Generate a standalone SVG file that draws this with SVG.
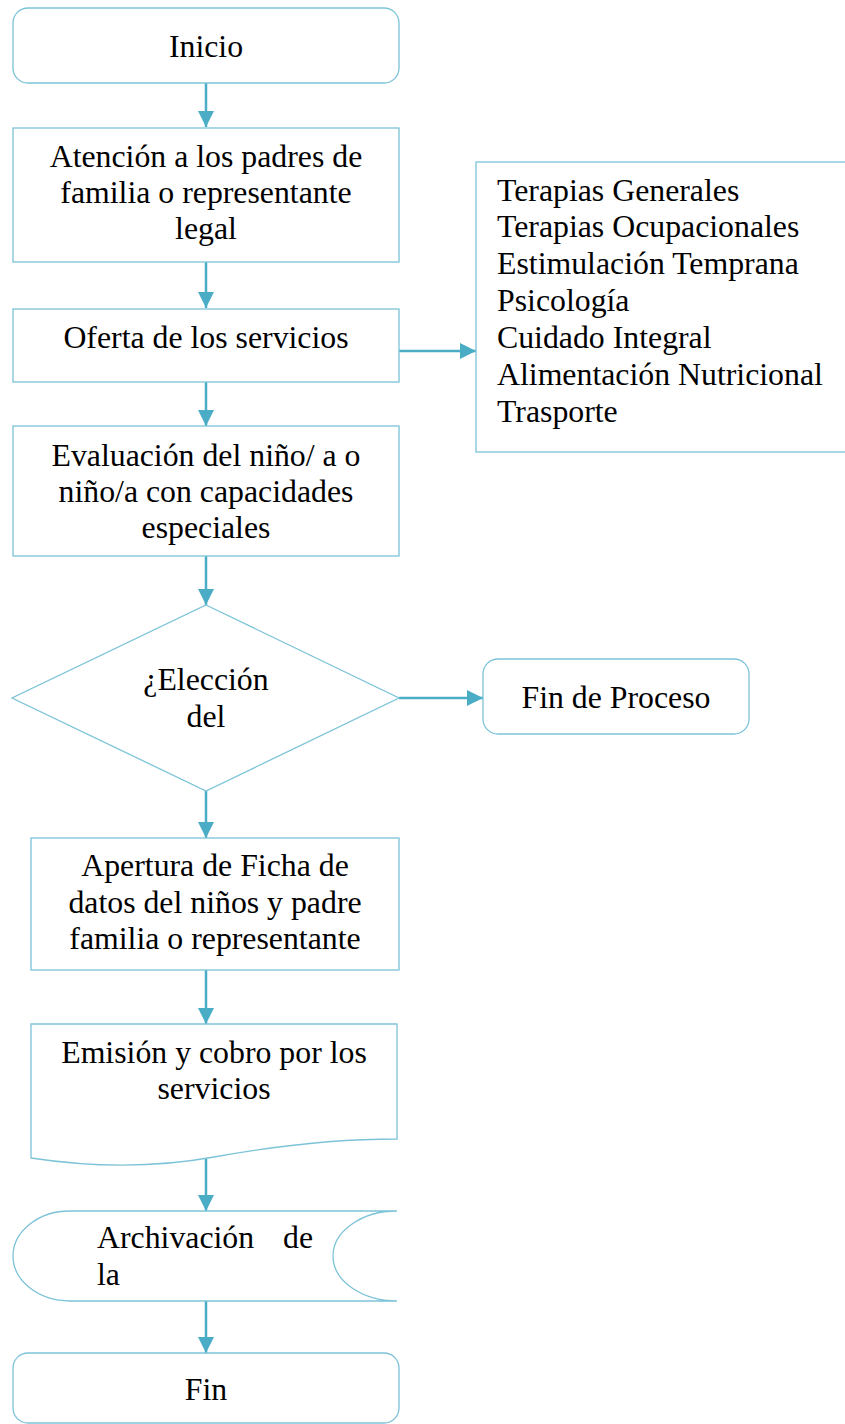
<svg xmlns="http://www.w3.org/2000/svg" width="845" height="1424" viewBox="0 0 845 1424">
<style>
.shape{fill:#ffffff;stroke:#7cc3d7;stroke-width:1.3}
.conn{stroke:#4bacc6;stroke-width:2.5;fill:none}
.t{font-family:"Liberation Serif","Times New Roman",serif;font-size:31.8px;fill:#000000}
.c{text-anchor:middle}
</style>
<defs>
<marker id="ah" viewBox="0 0 16 16" refX="16" refY="8" markerWidth="16" markerHeight="16" markerUnits="userSpaceOnUse" orient="auto">
<path d="M0,0 L16,8 L0,16 z" fill="#4bacc6"/>
</marker>
</defs>
<rect width="845" height="1424" fill="#ffffff"/>
<g id="connectors">
<line class="conn" x1="206" y1="83" x2="206" y2="127" marker-end="url(#ah)"/>
<line class="conn" x1="206" y1="262" x2="206" y2="308" marker-end="url(#ah)"/>
<line class="conn" x1="399" y1="351" x2="476" y2="351" marker-end="url(#ah)"/>
<line class="conn" x1="206" y1="382" x2="206" y2="426" marker-end="url(#ah)"/>
<line class="conn" x1="206" y1="556" x2="206" y2="605" marker-end="url(#ah)"/>
<line class="conn" x1="399" y1="698" x2="483" y2="698" marker-end="url(#ah)"/>
<line class="conn" x1="206" y1="791" x2="206" y2="838" marker-end="url(#ah)"/>
<line class="conn" x1="206" y1="970" x2="206" y2="1024" marker-end="url(#ah)"/>
<line class="conn" x1="206" y1="1159" x2="206" y2="1211" marker-end="url(#ah)"/>
<line class="conn" x1="206" y1="1301" x2="206" y2="1353" marker-end="url(#ah)"/>
</g>
<g id="inicio">
<rect class="shape" x="13" y="8" width="386" height="75" rx="15"/>
<text class="t c" x="206" y="57">Inicio</text>
</g>
<g id="atencion">
<rect class="shape" x="13" y="128" width="386" height="134"/>
<text class="t c" x="206" y="167">Atención a los padres de</text>
<text class="t c" x="206" y="203">familia o representante</text>
<text class="t c" x="206" y="239">legal</text>
</g>
<g id="oferta">
<rect class="shape" x="13" y="309" width="386" height="73"/>
<text class="t c" x="206" y="348">Oferta de los servicios</text>
</g>
<g id="servicios">
<rect class="shape" x="476" y="162" width="380" height="290"/>
<text class="t" x="497" y="201">Terapias Generales</text>
<text class="t" x="497" y="237">Terapias Ocupacionales</text>
<text class="t" x="497" y="274">Estimulación Temprana</text>
<text class="t" x="497" y="311">Psicología</text>
<text class="t" x="497" y="348">Cuidado Integral</text>
<text class="t" x="497" y="385">Alimentación Nutricional</text>
<text class="t" x="497" y="422">Trasporte</text>
</g>
<g id="evaluacion">
<rect class="shape" x="13" y="426" width="386" height="130"/>
<text class="t c" x="206" y="466">Evaluación del niño/ a o</text>
<text class="t c" x="206" y="502">niño/a con capacidades</text>
<text class="t c" x="206" y="538">especiales</text>
</g>
<g id="eleccion">
<polygon class="shape" points="206,605 399,698 206,791 12,698"/>
<text class="t c" x="206" y="690">¿Elección</text>
<text class="t c" x="206" y="727">del</text>
</g>
<g id="fin-proceso">
<rect class="shape" x="483" y="659" width="266" height="75" rx="15"/>
<text class="t c" x="616" y="708">Fin de Proceso</text>
</g>
<g id="apertura">
<rect class="shape" x="31" y="838" width="368" height="132"/>
<text class="t c" x="215" y="876">Apertura de Ficha de</text>
<text class="t c" x="215" y="913">datos del niños y padre</text>
<text class="t c" x="215" y="949">familia o representante</text>
</g>
<g id="emision">
<path class="shape" d="M31,1024 L397,1024 L397,1139 C330,1139 258,1149 214,1157 C170,1165 110,1170 31,1158 Z"/>
<text class="t c" x="214" y="1063">Emisión y cobro por los</text>
<text class="t c" x="214" y="1099">servicios</text>
</g>
<g id="archivacion">
<path class="shape" d="M70,1211 L397,1211 A64,45 0 0 0 397,1301 L70,1301 A57,45 0 0 1 70,1211 Z"/>
<text class="t" x="97" y="1248">Archivación</text>
<text class="t" x="283" y="1248">de</text>
<text class="t" x="97" y="1285">la</text>
</g>
<g id="fin">
<rect class="shape" x="13" y="1353" width="386" height="70" rx="15"/>
<text class="t c" x="206" y="1400">Fin</text>
</g>
</svg>
